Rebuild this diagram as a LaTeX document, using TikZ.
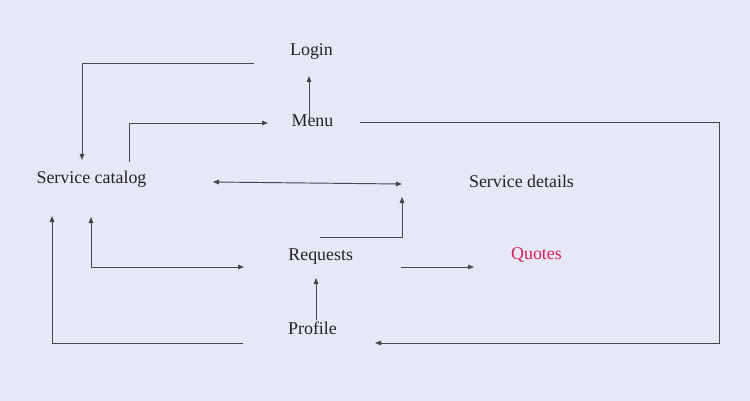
\documentclass[tikz,border=0pt]{standalone}
\usepackage{fontspec}
\setmainfont{Liberation Serif}
\usetikzlibrary{arrows.meta}
\definecolor{bg}{RGB}{230,232,246}
\definecolor{ink}{RGB}{35,35,35}
\definecolor{wire}{RGB}{70,70,75}
\definecolor{quote}{RGB}{214,32,88}
\tikzset{
  lbl/.style={anchor=base, inner sep=0pt, text=ink, font=\fontsize{17.9}{20}\selectfont},
  wireline/.style={draw=wire, line width=0.95pt, -{Triangle[length=6pt,width=4.6pt]}},
  bothends/.style={draw=wire, line width=0.95pt, {Triangle[length=6pt,width=4.6pt]}-{Triangle[length=6pt,width=4.6pt]}}
}
\begin{document}
\begin{tikzpicture}[x=1pt,y=-1pt]
\fill[bg] (0,0) rectangle (750,401);
\useasboundingbox (0,0) rectangle (750,401);
% texts
\node[lbl] (login) at (311.5,56) {Login};
\node[lbl] (menu) at (312.5,127) {Menu};
\node[lbl] (catalog) at (91.5,183) {Service catalog};
\node[lbl] (details) at (521.5,188) {Service details};
\node[lbl] (requests) at (320.7,260) {Requests};
\node[lbl, text=quote] (quotes) at (536.5,259) {Quotes};
\node[lbl] (profile) at (312.5,334) {Profile};
% connector end points
\coordinate (a1) at (254,63);
\coordinate (a2) at (82,160);
\coordinate (b1) at (129,162);
\coordinate (b2) at (268,123);
\coordinate (c1) at (309,118);
\coordinate (c2) at (309,76);
\coordinate (d1) at (213,182);
\coordinate (d2) at (402,184);
\coordinate (e1) at (320,237);
\coordinate (e2) at (402,197);
\coordinate (f1) at (91,217);
\coordinate (f2) at (244,267);
\coordinate (g1) at (401,267);
\coordinate (g2) at (474,267);
\coordinate (h1) at (316,320);
\coordinate (h2) at (316,278);
\coordinate (i1) at (243,343);
\coordinate (i2) at (52,216);
\coordinate (j1) at (360,122);
\coordinate (j2) at (375,343);
\coordinate (jc) at (719,122);
% connectors
\draw[wireline] (a1) -| (a2);
\draw[wireline] (b1) |- (b2);
\draw[wireline] (c1) -- (c2);
\draw[bothends] (d1) -- (d2);
\draw[wireline] (e1) -| (e2);
\draw[bothends] (f1) |- (f2);
\draw[wireline] (g1) -- (g2);
\draw[wireline] (h1) -- (h2);
\draw[wireline] (i1) -| (i2);
\draw[wireline] (j1) -- (jc) |- (j2);
\end{tikzpicture}
\end{document}
